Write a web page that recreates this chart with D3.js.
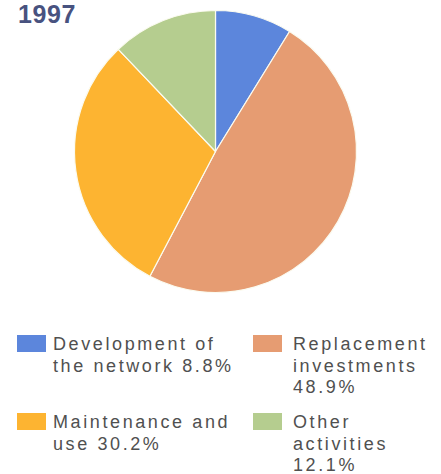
<!DOCTYPE html>
<html>
<head>
<meta charset="utf-8">
<script src="https://cdn.jsdelivr.net/npm/d3@7/dist/d3.min.js"></script>
<style>
  html, body { margin: 0; padding: 0; background: #ffffff; }
  svg { display: block; }
</style>
</head>
<body>
<svg id="chart" width="441" height="474"></svg>
<script>
// Expenditure breakdown, 1997 (percent of total)
const title = "1997";
const categories = ["Development of the network", "Replacement investments", "Maintenance and use", "Other activities"];
const values = [8.8, 48.9, 30.2, 12.1];
const colors = ["#5c86dc", "#e69c72", "#fdb431", "#b5cd8f"];
// Legend text, broken into lines
const legendLines = [
  ["Development of", "the network 8.8%"],
  ["Replacement", "investments", "48.9%"],
  ["Maintenance and", "use 30.2%"],
  ["Other", "activities", "12.1%"]
];

const svg = d3.select("#chart");

svg.append("text")
  .attr("x", 18)
  .attr("y", 23)
  .attr("font-family", "Liberation Sans, Arial, sans-serif")
  .attr("font-weight", "bold")
  .attr("font-size", 25)
  .attr("letter-spacing", 0.6)
  .attr("fill", "#48527f")
  .text(title);

const cx = 215.5, cy = 151.5, r = 141;

const pie = d3.pie().sort(null).value(d => d.value);
const arc = d3.arc().innerRadius(0).outerRadius(r);

const data = categories.map((c, i) => ({ name: c, value: values[i], color: colors[i] }));

svg.append("g")
  .attr("transform", `translate(${cx},${cy})`)
  .selectAll("path")
  .data(pie(data))
  .join("path")
  .attr("d", arc)
  .attr("fill", d => d.data.color)
  .attr("stroke", "#fbfbf0")
  .attr("stroke-width", 1.2)
  .attr("stroke-linejoin", "round");

// Legend: two columns, two rows
const swatchX = [17, 253];
const textX = [53, 293];
const rowY = [350, 428];
const lineH = 21.5;

const legend = svg.append("g");
data.forEach((d, i) => {
  const col = i % 2;
  const y = rowY[Math.floor(i / 2)];
  legend.append("rect")
    .attr("x", swatchX[col])
    .attr("y", y - 15)
    .attr("width", 29)
    .attr("height", 17)
    .attr("fill", d.color);
  const t = legend.append("text")
    .attr("font-family", "Liberation Sans, Arial, sans-serif")
    .attr("font-size", 18)
    .attr("letter-spacing", 2.6)
    .attr("fill", "#505050");
  legendLines[i].forEach((line, j) => {
    t.append("tspan")
      .attr("x", textX[col])
      .attr("y", y + j * lineH)
      .text(line);
  });
});
</script>
</body>
</html>
